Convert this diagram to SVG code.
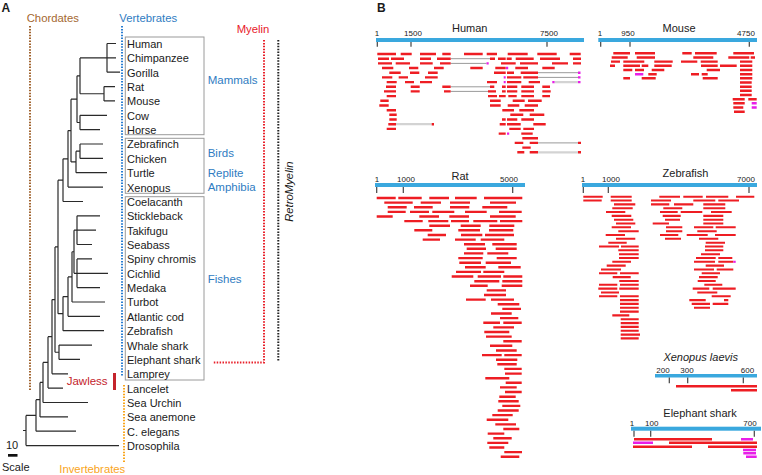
<svg xmlns="http://www.w3.org/2000/svg" width="762" height="475" viewBox="0 0 762 475">
<style>
text{font-family:"Liberation Sans",Arial,sans-serif;fill:#1a1a1a}
.sp{font-size:11px}
.grp{font-size:11.5px;fill:#2f7cc2}
.tk{font-size:8px;text-anchor:middle;fill:#222}
.ttl{font-size:11px;text-anchor:middle;fill:#222}
.tree{fill:none;stroke:#2a2a2a;stroke-width:1.2}
.box{fill:none;stroke:#9a9a9a;stroke-width:1}
.dot{fill:none;stroke-width:2;stroke-dasharray:1.5 1.4}
.ax{fill:#3aa8de}
.tick{stroke:#444;stroke-width:1.2}
.r{fill:none;stroke:#ee1d23;stroke-width:2.4}
.rz{fill:none;stroke:#ee1d23;stroke-width:2.1}
.m{fill:none;stroke:#e81ee8;stroke-width:2.4}
.g{fill:none;stroke:#9a9a9a;stroke-width:1}
.lg{fill:none;stroke:#d3d3d3;stroke-width:2.2}
</style>

<text x="1.5" y="11.7" style="font-size:12px;font-weight:bold">A</text>
<text x="377" y="12" style="font-size:12px;font-weight:bold">B</text>

<!-- Panel A: clade markers -->
<g id="chordates">
<text x="26.7" y="21.7" style="font-size:11.3px;fill:#a4672f">Chordates</text>
<path class="dot" stroke="#a0622d" d="M30 26V390"/>
</g>
<g id="vertebrates">
<text x="119.3" y="21.7" style="font-size:11.3px;fill:#2f7cc2">Vertebrates</text>
<path class="dot" stroke="#2a7ed2" d="M122 26V377"/>
</g>
<g id="invertebrates">
<text x="59.3" y="473" style="font-size:11.3px;fill:#f9a51b">Invertebrates</text>
<path class="dot" stroke="#f9a51b" d="M124 385V462"/>
</g>
<g id="myelin">
<text x="236.7" y="33.2" style="font-size:11.3px;fill:#e8202a">Myelin</text>
<path class="dot" stroke="#e8202a" d="M264 40V362.5H213"/>
</g>
<g id="retromyelin">
<path class="dot" stroke="#222" d="M278.3 40V361"/>
<text transform="translate(293,191.7) rotate(-90)" style="font-size:11.3px;font-style:italic;text-anchor:middle">RetroMyelin</text>
</g>
<g id="jawless">
<text x="66.7" y="385" style="font-size:11.5px;fill:#c4242c">Jawless</text>
<rect x="113" y="373" width="3" height="17" fill="#c4242c"/>
</g>

<!-- boxes and group labels -->
<g id="mammals">
<rect class="box" x="125.3" y="37" width="78.7" height="97.7"/>
<text class="grp" x="207.7" y="84">Mammals</text>
</g>
<g id="birds">
<rect class="box" x="125.3" y="138.3" width="78.7" height="55"/>
<text class="grp" x="207.7" y="157.3">Birds</text>
<text class="grp" x="207.7" y="177.2">Replite</text>
<text class="grp" x="207.7" y="190.5">Amphibia</text>
</g>
<g id="fishes">
<rect class="box" x="125.3" y="196.7" width="78.7" height="183.3"/>
<text class="grp" x="207.7" y="283">Fishes</text>
</g>

<!-- tree -->
<g id="tree">
<path class="tree" d="
M107 43.5H116 M107 57.9H116 M107 72.2H120 M107 43.5V72.2
M104 86.6H115 M104 100.9H115 M104 86.6V100.9
M80 57.9H107 M80 93.75H104 M80 57.9V93.75
M80 115.3H107 M80 129.7H100 M80 115.3V129.7
M77 75.8H80 M77 122.5H80 M77 75.8V122.5
M80 144H103 M80 158.4H103 M80 144V158.4
M76 151.2H80 M76 172.7H107 M76 151.2V172.7
M71 99.15H77 M71 161.95H76 M71 99.15V161.95
M68 130.55H71 M68 187.1H103 M68 130.55V187.1
M63 158.8H68 M63 201.5H83 M63 158.8V201.5
M77 215.8H100 M77 230.2H96 M77 244.5H92 M77 215.8V244.5
M77 258.9H92 M77 273.3H108 M77 287.6H100 M77 258.9V287.6
M74 230.2H77 M74 273.3H77 M74 230.2V273.3
M72 251.75H74 M72 302H105 M72 251.75V302
M68 276.9H72 M68 316.3H100 M68 276.9V316.3
M63 296.6H68 M63 330.7H104 M63 296.6V330.7
M58 180.15H63 M58 313.65H63 M58 180.15V313.65
M59 345.1H92 M59 359.4H80 M59 345.1V359.4
M55 246.9H58 M55 352.25H59 M55 246.9V352.25
M52 299.6H55 M52 373.8H68 M52 299.6V373.8
M48 336.7H52 M48 388.1H63 M48 336.7V388.1
M43 362.4H48 M43 402.5H88 M43 362.4V402.5
M40 382.45H43 M40 416.9H68 M40 382.45V416.9
M36 399.7H40 M36 431.2H76 M36 399.7V431.2
M26 415.45H36 M26 445.6H119 M26 415.45V445.6 M23 430.5H26"/>
</g>

<!-- species labels -->
<g id="species" class="sp">
<text x="127" y="47.9">Human</text>
<text x="127" y="62.3">Chimpanzee</text>
<text x="127" y="76.6">Gorilla</text>
<text x="127" y="91">Rat</text>
<text x="127" y="105.3">Mouse</text>
<text x="127" y="119.7">Cow</text>
<text x="127" y="134.1">Horse</text>
<text x="127" y="148.4">Zebrafinch</text>
<text x="127" y="162.8">Chicken</text>
<text x="127" y="177.1">Turtle</text>
<text x="127" y="191.5">Xenopus</text>
<text x="127" y="205.9">Coelacanth</text>
<text x="127" y="220.2">Stickleback</text>
<text x="127" y="234.6">Takifugu</text>
<text x="127" y="248.9">Seabass</text>
<text x="127" y="263.3">Spiny chromis</text>
<text x="127" y="277.7">Cichlid</text>
<text x="127" y="292">Medaka</text>
<text x="127" y="306.4">Turbot</text>
<text x="127" y="320.7">Atlantic cod</text>
<text x="127" y="335.1">Zebrafish</text>
<text x="127" y="349.5">Whale shark</text>
<text x="127" y="363.8">Elephant shark</text>
<text x="127" y="378.2">Lamprey</text>
<text x="127" y="392.5">Lancelet</text>
<text x="127" y="406.9">Sea Urchin</text>
<text x="127" y="421.3">Sea anemone</text>
<text x="127" y="435.6">C. elegans</text>
<text x="127" y="450">Drosophila</text>
</g>

<g id="scale">
<text x="6" y="449.3" style="font-size:11px">10</text>
<rect x="8" y="454" width="9.5" height="2.7" fill="#111"/>
<text x="2" y="470.7" style="font-size:11px">Scale</text>
</g>

<!-- Panel B -->
<g id="human">
<text class="ttl" x="469.7" y="31.5">Human</text>
<rect class="ax" x="376" y="38" width="208" height="4"/>
<path class="tick" d="M377.3 42V46.7M411 42V46.7M547 42V46.7"/>
<text class="tk" x="377" y="36">1</text>
<text class="tk" x="413" y="36">1500</text>
<text class="tk" x="549" y="36">7500</text>
<path class="g" d="M450.7 58.7H490 M450.7 63.4H486.5 M538 72.7H578 M538 77.4H578 M450.7 86.8H490 M450.7 91.4H488 M538 142.9H578"/>
<path class="lg" d="M554.3 82.1H578 M396 124.2H431.7 M538 152.3H578"/>
<path class="r" d="
M377.3 54H396M400.7 54H411.7M420 54H436M442.3 54H450.7M464 54H482.7M486.7 54H497M507.7 54H527.7M537.3 54H556.7M569.7 54H580.7
M378 58.7H389M391 58.7H404M420 58.7H431M437 58.7H450.7M490 58.7H495M498 58.7H505.7M506.7 58.7H511.7M515.7 58.7H533.7M540 58.7H560M573 58.7H581
M378 63.4H392M395.7 63.4H410M420 63.4H432.7M440 63.4H450.7M501 63.4H515.7M520 63.4H538M552 63.4H568M573 63.4H581
M382 68H393.3M409 68H418.3M434 68H443.7M470.3 68H482.7M495.3 68H505.7M515.3 68H528M542.3 68H554.7
M389.3 72.7H400.7M410 72.7H419.3M428 72.7H437.7M494 72.7H505.7M507 72.7H514M520.7 72.7H538
M382 77.4H392.3M398.7 77.4H408M425 77.4H437.7M507 77.4H521.3M523.3 77.4H538
M386.7 82.1H396.7M405 82.1H414M420 82.1H432M487 82.1H497M507 82.1H521.3M528.7 82.1H540
M386 86.8H396M410.7 86.8H419.7M442.3 86.8H450.7M490 86.8H494.3M502 86.8H505.7M507 86.8H517.3M521.3 86.8H534M542.3 86.8H550
M384 91.4H396M410.7 91.4H419.7M444 91.4H450.7M488 91.4H496M502 91.4H505.7M507 91.4H517.3M521.3 91.4H534M542.3 91.4H550.7
M386.7 96.1H396M488 96.1H497M499 96.1H505.7M508.3 96.1H516.7M521.3 96.1H534M542.3 96.1H550
M380.3 100.8H388.7M490 100.8H500.7M512.7 100.8H524.7M528 100.8H541.7
M379.3 105.5H388.7M490 105.5H500.7M507.7 105.5H519.3M524.7 105.5H538
M386.7 110.2H396M502.3 110.2H514M519.3 110.2H534
M389.3 114.8H396.7M510.3 114.8H523.3M529.7 114.8H544.3
M389.3 119.5H396.7M502 119.5H505.7M507 119.5H517.3M521.3 119.5H534
M388.3 124.2H396M431.7 124.2H434M499.7 124.2H505.7M507 124.2H520.7M533.3 124.2H545.7
M386.7 128.9H396M509.3 128.9H520.7M523.3 128.9H534
M498.7 133.6H505.7M521.3 133.6H532.7
M522.3 138.2H538
M514.7 142.9H523.3M529.7 142.9H538M578 142.9H581
M522.3 147.6H530.7
M517.3 152.3H524.3M529.7 152.3H538M578 152.3H581"/>
<path class="m" d="M486.5 63.4H488.7M506 68H508.2M578 72.7H580.5M503.7 77.4H505.7M578 77.4H580.5M503.7 82.1H505.7M552.3 82.1H554.5M578 82.1H580.5M507 133.6H509.2"/>
</g>

<g id="mouse">
<text class="ttl" x="679" y="31.5">Mouse</text>
<rect class="ax" x="598.3" y="38" width="158.7" height="4"/>
<path class="tick" d="M600.7 42V46.7M630 42V46.7M749.3 42V46.7"/>
<text class="tk" x="600" y="36">1</text>
<text class="tk" x="628" y="36">950</text>
<text class="tk" x="746" y="36">4750</text>
<path class="r" d="
M613.3 53.3H630M635 53.3H655M682.3 53.3H691.7M695 53.3H716.7M733.3 53.3H754
M611.7 57.5H627.7M636.7 57.5H655M693.3 57.5H713.3M728.3 57.5H749.3M750.7 57.5H755
M611 61.6H620M623.3 61.6H644.3M654.3 61.6H672.7M681 61.6H697.3M700.7 61.6H717.7M740 61.6H752.3
M610 65.8H615M623.3 65.8H640M641.7 65.8H648.3M654.3 65.8H671.7M701 65.8H717.7M720 65.8H736.7M740 65.8H752.3
M623.3 70H632.3M635 70H644M651.7 70H664.3M706.7 70H720M740 70H752.3
M648.3 74.2H656.7M691 74.2H699M701.7 74.2H707.7M740 74.2H752.3
M623.3 78.3H630M641.7 78.3H655.7M702.7 78.3H717.7M740 78.3H752.3
M740 82.5H751.7M740 86.7H751.7M740 90.8H751.7M740 95H751.7
M732.7 99.2H744.7M748.3 99.2H756.7
M733.3 103.3H744.7M733.3 107.5H743.3M734 111.7H744.7"/>
<path class="m" d="M635 74.2H643.3M751.7 103.3H756.7M751.7 107.5H756.7"/>
</g>

<g id="rat">
<text class="ttl" x="460" y="180">Rat</text>
<rect class="ax" x="375" y="183" width="150" height="4"/>
<path class="tick" d="M376.7 187V193M403.3 187V193M512.7 187V193"/>
<text class="tk" x="377" y="181.7">1</text>
<text class="tk" x="406" y="181.7">1000</text>
<text class="tk" x="509" y="181.7">5000</text>
<path class="r" d="
M376.7 198H395.7M398.3 198H421.7M429.3 198H449M455 198H476.7M484 198H522.3
M384.3 202.6H412.7M420.7 202.6H441M450 202.6H470M490 202.6H516
M387.7 207.2H406.7M414 207.2H432.7M450 207.2H469.3M482.3 207.2H507.3
M387.7 211.9H405.7M410 211.9H429M432.3 211.9H454.3M465 211.9H486.7M499 211.9H521.7
M376.7 216.5H392.7M419.3 216.5H439M449.3 216.5H469M490 216.5H515.7
M404.3 221.1H422.7M428.3 221.1H448.3M451 221.1H469M473.3 221.1H497.3M500 221.1H522.3
M429.3 225.7H450M460.7 225.7H480.7M489.3 225.7H514.3
M414.3 230.3H432.3M458.3 230.3H480M489 230.3H513.3
M427.7 235H446M461 235H482.3M485 235H514
M422.7 239.6H440M455 239.6H475.7M480.7 239.6H504.3
M464 244.2H485M492.3 244.2H516.7
M466.7 248.8H486M495.7 248.8H516.7
M464 253.4H483.3M487.3 253.4H508.3
M458.3 258.1H482.7M496.7 258.1H516.7
M459.3 262.7H481M485.7 262.7H511
M465 267.3H485.7M498.3 267.3H520.7
M456 271.9H481M483.3 271.9H504.3
M451.7 276.5H473.3M477.7 276.5H501M503.3 276.5H522.3
M474.3 281.2H499.3M502.3 281.2H522.3
M470 285.8H487.7M501.7 285.8H522.3
M486.7 290.4H506
M484 295H506
M466 299.6H485.7M491 299.6H514
M497.7 304.3H519.3
M502.3 308.9H521
M491 313.5H511.7
M500 318.1H518.3
M483.3 322.7H500M503.3 322.7H521.7
M493.3 327.4H514
M484.3 332H509.3
M486 336.6H511.7
M503.3 341.2H521.7
M490 345.8H512.3
M496 350.5H516.7
M482 355.1H501.7M504.3 355.1H521.7
M496 359.7H517.3
M497.3 364.3H516.7
M504.3 368.9H521.7
M505 373.6H521.7
M485.3 378.2H509.3
M505.7 382.8H521.7
M500 387.4H516.7
M505 392H521.7
M499.3 396.7H515.7
M498.3 401.3H518.7
M502.3 405.9H520.3
M497.7 410.5H518.7
M492.3 415.1H512.7
M486.7 419.8H508.3
M495.3 424.4H516
M503.3 429H519.3
M487.7 433.6H504.3
M493.3 438.2H511.7
M487.3 442.9H508.3
M489.3 447.5H504.3
M504.3 452.1H522
M500.7 456.7H519.3"/>
</g>

<g id="zebrafish">
<text class="ttl" x="685.5" y="177">Zebrafish</text>
<rect class="ax" x="582" y="183" width="175" height="4"/>
<path class="tick" d="M583.3 187V193M608.3 187V193M749 187V193"/>
<text class="tk" x="583" y="181.7">1</text>
<text class="tk" x="611" y="181.7">1000</text>
<text class="tk" x="746" y="181.7">7000</text>
<path class="rz" d="
M583.3 196.7H602.7M610.7 196.7H631.7M659.3 196.7H680M683.3 196.7H702.7M706 196.7H728.3M736 196.7H754.3
M583.3 200.5H601.7M610.7 200.5H631.7M651 200.5H671M693.3 200.5H715.3M718.3 200.5H739
M614 204.4H635.3M651 204.4H669.3M674 204.4H693.3M703.3 204.4H725.3
M612.3 208.2H632.7M663.3 208.2H682.3M703.3 208.2H725.3
M606 212H625.3M660 212H677.7M680.7 212H702.3M711 212H731.7
M611.7 215.9H631.3M662.7 215.9H680.7M703.3 215.9H723.3
M614 219.7H633.3M665 219.7H680M703.3 219.7H723.3
M616 223.5H635.3M652.7 223.5H669M703.3 223.5H723.3
M611.7 227.3H631M666 227.3H682.3M694 227.3H713.3M715.7 227.3H735.7
M618.3 231.2H638.7M666 231.2H682.3M697.3 231.2H716.7
M605.7 235H625M660 235H678.3M686.7 235H707.7M715 235H735.7
M616 238.8H635.3M665 238.8H681M699 238.8H718.3
M608.3 242.7H626.7M705.7 242.7H725
M599 246.5H619M621 246.5H638.7M705 246.5H723.3
M618.3 250.3H638.7M705 250.3H723.3
M619 254.2H638.7M701 254.2H720
M619 258H638.7M696 258H715.7M718.3 258H732.3
M612.3 261.8H631M694 261.8H715M718.3 261.8H733.3
M606.7 265.6H625.7M705.7 265.6H724
M601 269.5H621M694 269.5H714M716.7 269.5H733.3
M599 273.3H617.3M620 273.3H638.7M701.7 273.3H720
M612.7 277.1H630.7M699 277.1H717.7
M619.3 281H638.7M697.7 281H715.7
M599 284.8H617.3M620 284.8H638.7M704.3 284.8H722.3
M598.3 288.6H617.3M619.3 288.6H638.7M692.7 288.6H709.3M712.7 288.6H735.7
M601 292.5H619M697.3 292.5H717.3
M599 296.3H617.3M620 296.3H638.7M711.7 296.3H730.7
M620 300.1H638.7M689.3 300.1H705.7M724 300.1H728.3
M620 303.9H638.7M691.7 303.9H710M712.7 303.9H728.3
M620 307.8H638.7M694 307.8H710
M620 311.6H638.7
M612.3 315.4H629.3
M620.7 319.3H638.7
M620.7 323.1H638.7
M620.7 326.9H638.7
M620.7 330.8H638.7
M620.7 334.6H640
M620.7 338.4H638.7"/>
<path class="m" d="M733.3 261.8H735.7" style="stroke-width:2.1"/>
</g>

<g id="xenopus">
<text x="700.7" y="361" style="font-size:11px;font-style:italic;text-anchor:middle;fill:#222">Xenopus laevis</text>
<rect class="ax" x="655" y="374" width="102" height="3.5"/>
<path class="tick" d="M669.3 377.5V383.3M687.7 377.5V383.3M743.3 377.5V383.3"/>
<text class="tk" x="663" y="373">200</text>
<text class="tk" x="687" y="373">300</text>
<text class="tk" x="747.5" y="373">600</text>
<path class="r" d="M676 386.3H757M731 390.3H757"/>
</g>

<g id="elephantshark">
<text class="ttl" x="700" y="417">Elephant shark</text>
<rect class="ax" x="631" y="426.7" width="130" height="4"/>
<path class="tick" d="M634 430.7V436.7M650.7 430.7V436.7M754.3 430.7V436.7"/>
<text class="tk" x="632" y="426">1</text>
<text class="tk" x="651.7" y="426">100</text>
<text class="tk" x="750" y="426">700</text>
<path class="r" d="M634 439.3H712M669 442.7H757M633 446.7H692M708 446.7H757"/>
<path class="m" d="M741 439.3H753M633 442.7H653M743 450H756M743.3 453.3H756M746 456.7H756.7"/>
</g>
</svg>
